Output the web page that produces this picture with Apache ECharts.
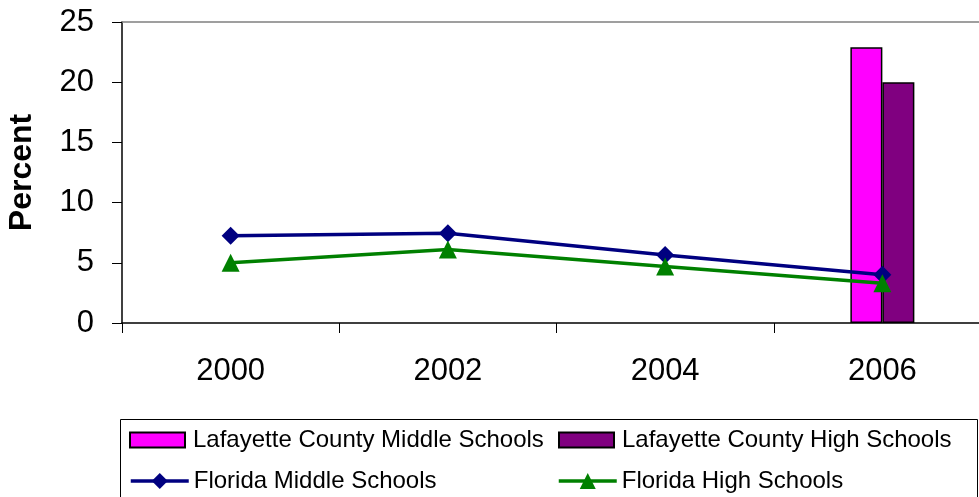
<!DOCTYPE html>
<html>
<head>
<meta charset="utf-8">
<script src="https://cdn.jsdelivr.net/npm/echarts@6/dist/echarts.min.js"></script>
<style>
html,body{margin:0;padding:0;background:#fff;}
#chart{width:979px;height:497px;}
</style>
</head>
<body>
<div id="chart"></div>
<script>
var years = ['2000', '2002', '2004', '2006'];
var lafayetteMiddle = [null, null, null, 22.9];
var lafayetteHigh = [null, null, null, 20.0];
var floridaMiddle = [7.25, 7.45, 5.65, 4.0];
var floridaHigh = [5.0, 6.1, 4.7, 3.3];
var yTicks = [0, 5, 10, 15, 20, 25];
var seriesNames = ['Lafayette County Middle Schools', 'Lafayette County High Schools', 'Florida Middle Schools', 'Florida High Schools'];

var FONT = '"Liberation Sans", Arial, sans-serif';
function leg(name, left, top, isLine) {
  var l = {
    orient: 'horizontal', left: left, top: top, padding: 0,
    itemWidth: isLine ? 58 : 55, itemHeight: isLine ? 20 : 15, itemGap: 0,
    textStyle: {fontFamily: FONT, fontSize: 24, color: '#000', padding: isLine ? [0, 0, 0, 0] : [0, 0, 0, 3]},
    data: isLine ? [name] : [{name: name, icon: 'rect'}]
  };
  if (isLine) l.lineStyle = {width: 3.5};
  return l;
}
var chart = echarts.init(document.getElementById('chart'), null, {renderer: 'canvas'});
chart.setOption({
  animation: false,
  backgroundColor: '#ffffff',
  grid: {
    left: 122, top: 22, right: -12, bottom: 174,
    outerBoundsMode: 'none', containLabel: false,
    show: false
  },
  xAxis: [{
    type: 'category',
    data: years,
    boundaryGap: true,
    axisLine: {lineStyle: {color: '#000', width: 1.5}},
    axisTick: {show: true, length: 10, inside: false, alignWithLabel: false, lineStyle: {color: '#000', width: 1}},
    axisLabel: {fontFamily: FONT, fontSize: 31, color: '#000', margin: 33},
    splitLine: {show: false}
  }, {
    type: 'category',
    data: years,
    position: 'top',
    axisLine: {show: true, lineStyle: {color: '#808080', width: 1.5}},
    axisTick: {show: false},
    axisLabel: {show: false},
    splitLine: {show: false}
  }],
  yAxis: {
    type: 'value',
    min: yTicks[0], max: yTicks[yTicks.length - 1], interval: 5,
    name: 'Percent',
    nameLocation: 'middle',
    nameGap: 84,
    nameTextStyle: {fontFamily: FONT, fontSize: 32, fontWeight: 'bold', color: '#000'},
    axisLine: {show: true, lineStyle: {color: '#000', width: 1.5}},
    axisTick: {show: true, length: 10, inside: false, lineStyle: {color: '#000', width: 1}},
    axisLabel: {fontFamily: FONT, fontSize: 31, color: '#000', margin: 28},
    splitLine: {show: false}
  },
  legend: [
    leg(seriesNames[0], 129, 428, false),
    leg(seriesNames[1], 558, 428, false),
    leg(seriesNames[2], 129, 469, true),
    leg(seriesNames[3], 557, 469, true)
  ],
  graphic: [{
    type: 'rect', z: -1,
    shape: {x: 120.5, y: 419.5, width: 857, height: 100},
    style: {fill: '#fff', stroke: '#000', lineWidth: 1}
  }],
  series: [
    {
      name: seriesNames[0], type: 'bar', data: lafayetteMiddle,
      barWidth: 32, barGap: '0%',
      itemStyle: {color: '#FF00FF', borderColor: '#000', borderWidth: 1.5}
    },
    {
      name: seriesNames[1], type: 'bar', data: lafayetteHigh,
      barWidth: 32, barGap: '0%',
      itemStyle: {color: '#800080', borderColor: '#000', borderWidth: 1.5}
    },
    {
      name: seriesNames[2], type: 'line', data: floridaMiddle,
      symbol: 'diamond', symbolSize: 18,
      lineStyle: {color: '#000080', width: 3.5},
      itemStyle: {color: '#000080'}
    },
    {
      name: seriesNames[3], type: 'line', data: floridaHigh,
      symbol: 'triangle', symbolSize: 18,
      lineStyle: {color: '#008000', width: 3.5},
      itemStyle: {color: '#008000'}
    }
  ]
});
</script>
</body>
</html>
